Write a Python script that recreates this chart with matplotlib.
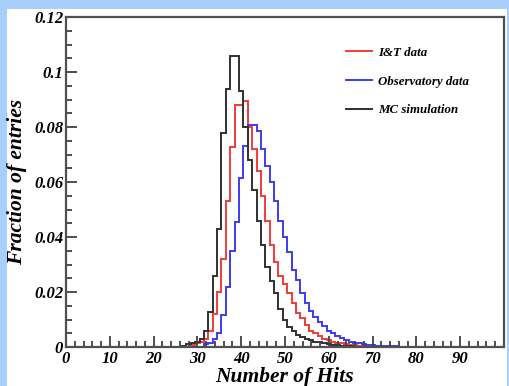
import numpy as np
import matplotlib
matplotlib.use("Agg")
import matplotlib.pyplot as plt
from matplotlib.patches import Rectangle
from matplotlib.ticker import MultipleLocator, FuncFormatter

# bin centres are integer hit counts, bins of width 1
mc_start = 27
mc_sim = [0.0005, 0.001, 0.0015, 0.002, 0.003, 0.006, 0.0127, 0.026, 0.043,
          0.078, 0.094, 0.106, 0.106, 0.093, 0.080, 0.068, 0.057, 0.046,
          0.037, 0.029, 0.024, 0.0196, 0.014, 0.0098, 0.0073, 0.006, 0.0044,
          0.0036, 0.003, 0.0025, 0.002, 0.0017, 0.0014, 0.0011, 0.0009,
          0.0007, 0.0005, 0.0004, 0.0003]

it_start = 29
it_data = [0.0008, 0.0015, 0.002, 0.003, 0.006, 0.012, 0.020, 0.032, 0.053,
           0.0727, 0.088, 0.088, 0.0895, 0.080, 0.072, 0.064, 0.055, 0.046,
           0.037, 0.031, 0.026, 0.023, 0.0196, 0.016, 0.0124, 0.0105, 0.008,
           0.006, 0.005, 0.004, 0.003, 0.0025, 0.002, 0.0016, 0.0013, 0.001,
           0.0008, 0.0006, 0.0005, 0.0004, 0.0003, 0.0002]

obs_start = 32
obs_data = [0.001, 0.0015, 0.003, 0.005, 0.0116, 0.022, 0.035, 0.0456, 0.0614,
            0.073, 0.0807, 0.0807, 0.0785, 0.072, 0.066, 0.060, 0.053, 0.046,
            0.040, 0.0345, 0.028, 0.0244, 0.0196, 0.016, 0.013, 0.011, 0.009,
            0.0075, 0.006, 0.005, 0.004, 0.0032, 0.0026, 0.002, 0.0016,
            0.0013, 0.001, 0.0008, 0.0006, 0.0005, 0.0004, 0.0003, 0.0002,
            0.0002]

labels = ["I&T data", "Observatory data", "MC simulation"]
colors = ["#f03c3c", "#3c3cf0", "#303030"]

font = {"family": "Liberation Serif", "weight": "bold", "style": "italic"}


def edges_for(start, vals):
    return np.arange(len(vals) + 1) + start - 0.5


fig = plt.figure(figsize=(5.09, 3.86), dpi=100)
fig.patch.set_facecolor("#a6cffc")
fig.add_artist(Rectangle((7 / 509, 0), 500 / 509, 377 / 386,
                         transform=fig.transFigure, facecolor="white",
                         edgecolor="none", zorder=0))

ax = fig.add_axes([66 / 509, 39 / 386, 438 / 509, 330 / 386])
ax.set_facecolor("white")

series = [(it_start, it_data), (obs_start, obs_data), (mc_start, mc_sim)]
for (start, vals), lab, col in zip(series, labels, colors):
    ax.stairs(vals, edges_for(start, vals), color=col, lw=1.4, label=lab)

ax.set_xlim(0, 100)
ax.set_ylim(0, 0.12)

ax.xaxis.set_major_locator(MultipleLocator(10))
ax.xaxis.set_minor_locator(MultipleLocator(2))
ax.yaxis.set_major_locator(MultipleLocator(0.02))
ax.yaxis.set_minor_locator(MultipleLocator(0.005))


def xfmt(v, pos):
    return "" if v > 95 else "%d" % v


def yfmt(v, pos):
    if abs(v) < 1e-9:
        return "0"
    return ("%.2f" % v).rstrip("0")


ax.xaxis.set_major_formatter(FuncFormatter(xfmt))
ax.yaxis.set_major_formatter(FuncFormatter(yfmt))

ax.tick_params(which="both", direction="in", top=False, right=False,
               color="#404040", width=1.3)
ax.tick_params(which="major", length=8)
ax.tick_params(which="minor", length=4)
ax.tick_params(axis="x", pad=3)
ax.tick_params(axis="y", pad=2)
for lbl in ax.get_xticklabels() + ax.get_yticklabels():
    lbl.set_fontfamily(font["family"])
    lbl.set_fontweight("bold")
    lbl.set_fontstyle("italic")
    lbl.set_fontsize(12)

for sp in ax.spines.values():
    sp.set_color("#505050")
    sp.set_linewidth(1.6)

ax.set_xlabel("Number of Hits", fontsize=15.5, labelpad=0, **font)
ax.set_ylabel("Fraction of entries", fontsize=15.5, labelpad=5, **font)

leg = ax.legend(loc="upper left", bbox_to_anchor=(0.612, 0.945), frameon=False,
                handlelength=2.0, handletextpad=0.5, labelspacing=1.3,
                prop={"family": "Liberation Serif", "weight": "bold",
                      "style": "italic", "size": 9.3})

fig.savefig("out.png", dpi=100, facecolor=fig.get_facecolor())
